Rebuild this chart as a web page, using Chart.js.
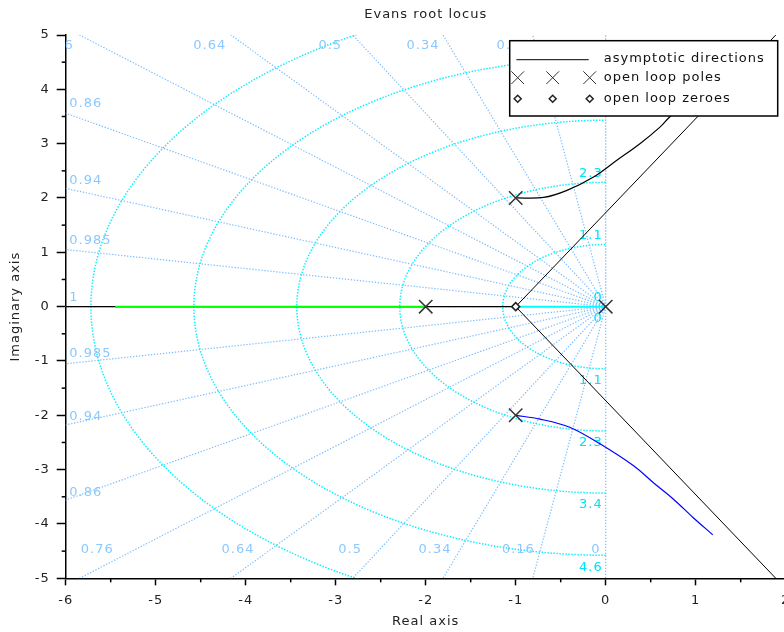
<!DOCTYPE html>
<html><head><meta charset="utf-8">
<script src="https://cdn.jsdelivr.net/npm/chart.js@4/dist/chart.umd.min.js"></script>
<style>html,body{margin:0;padding:0;background:#fff;overflow:hidden}#wrap{width:790px;height:632px}</style>
</head><body><div id="wrap"><canvas id="c" width="790" height="632"></canvas></div>
<script>
// ---- data ----
const poles = [[-2, 0], [-1, 2], [-1, -2], [0, 0]];
const zeros = [[-1, 0]];
const asymUp = [[-1, 0], [1.89, 5]];
const asymDown = [[-1, 0], [1.89, -5]];
const asymLeft = [[-1, 0], [-6, 0]];
const branchGreen = [[-2, 0], [-5.45, 0]];
const branchCyan = [[0, 0], [-0.98, 0]];
const branchUpper = [[-1, 2], [-0.69, 2.01], [-0.43, 2.14], [-0.14, 2.38], [0.12, 2.69], [0.38, 3.0], [0.6, 3.3], [0.71, 3.49], [0.97, 3.88], [1.19, 4.2]];
const branchLower = [[-1, -2], [-0.73, -2.07], [-0.4, -2.22], [-0.06, -2.53], [0.31, -2.93], [0.53, -3.24], [0.75, -3.54], [0.97, -3.88], [1.19, -4.2]];
// sgrid: damping ratios and natural frequencies
const zetaValues = [0, 0.16, 0.34, 0.49, 0.64, 0.76, 0.86, 0.94, 0.985, 1];
const wnValues = [0, 1.144, 2.288, 3.432, 4.576, 5.72];
const wnLabels = ['0', '1.1', '2.3', '3.4', '4.6', '5.7'];
const zetaLabelText = ['0.76', '0.64', '0.5', '0.34', '0.16', '0',
  '0.86', '0.94', '0.985', '1', '0.985', '0.94', '0.86',
  '0.76', '0.64', '0.5', '0.34', '0.16', '0'];
const zetaLabelX = [-5.91, -4.40, -3.06, -2.03, -1.03, -0.11,
  -5.96, -5.96, -5.96, -5.96, -5.96, -5.96, -5.96,
  -5.65, -4.085, -2.84, -1.897, -0.97, -0.108];
const zetaLabelY = [4.81, 4.81, 4.81, 4.81, 4.81, 4.81,
  3.74, 2.32, 1.215, 0.166, -0.866, -2.03, -3.43,
  -4.475, -4.475, -4.475, -4.475, -4.475, -4.475];
const zetaLabelAlign = ['right', 'center', 'center', 'center', 'center', 'center',
  'left', 'left', 'left', 'left', 'left', 'left', 'left',
  'center', 'center', 'center', 'center', 'center', 'center'];
const xMin = -6, xMax = 2, yMin = -5, yMax = 5;
const legendItems = ['asymptotic directions', 'open loop poles', 'open loop zeroes'];

const FONT = '"DejaVu Sans", sans-serif';
const pts = a => a.map(([x, y]) => ({x, y}));
const lineDs = (data, color, width, order, tension) => ({
  data: pts(data), showLine: true, borderColor: color, borderWidth: width,
  pointRadius: 0, tension: tension || 0, fill: false, order
});

const spacing = {
  id: 'spacing',
  beforeUpdate(c) { c.ctx.letterSpacing = '1px'; },
  beforeDraw(c) { c.ctx.letterSpacing = '1px'; }
};

const sgrid = {
  id: 'sgrid',
  beforeDatasetsDraw(c) {
    const {ctx, chartArea: a, scales: {x, y}} = c;
    const ox = x.getPixelForValue(0), oy = y.getPixelForValue(0);
    const sx = x.getPixelForValue(1) - ox, sy = oy - y.getPixelForValue(1);
    ctx.save();
    ctx.beginPath(); ctx.rect(a.left, a.top, a.right - a.left, a.bottom - a.top); ctx.clip();
    ctx.letterSpacing = '1px';
    // damping rays
    ctx.strokeStyle = '#78bcff'; ctx.lineWidth = 1.2; ctx.setLineDash([1.3, 1.7]);
    zetaValues.forEach(z => {
      const th = Math.acos(z);
      const R = 20;
      [1, -1].forEach(s => {
        ctx.beginPath();
        ctx.moveTo(ox, oy);
        ctx.lineTo(x.getPixelForValue(-R * Math.cos(th)), y.getPixelForValue(s * R * Math.sin(th)));
        ctx.stroke();
      });
    });
    // natural-frequency arcs
    ctx.strokeStyle = '#00f0ff'; ctx.lineWidth = 1.5; ctx.setLineDash([1.4, 1.6]);
    wnValues.forEach(w => {
      if (w <= 0) return;
      ctx.beginPath();
      ctx.ellipse(ox, oy, w * sx, w * sy, 0, Math.PI / 2, 3 * Math.PI / 2);
      ctx.stroke();
    });
    ctx.setLineDash([]);
    // labels
    ctx.font = '13px ' + FONT; ctx.textBaseline = 'middle';
    ctx.fillStyle = '#8cc8ff';
    zetaLabelText.forEach((t, i) => {
      ctx.textAlign = zetaLabelAlign[i];
      ctx.fillText(t, x.getPixelForValue(zetaLabelX[i]), y.getPixelForValue(zetaLabelY[i]));
    });
    ctx.fillStyle = '#00e2f8'; ctx.textAlign = 'right';
    wnValues.forEach((w, i) => {
      ctx.fillText(wnLabels[i], ox - 3, oy - w * sy - 9);
      ctx.fillText(wnLabels[i], ox - 3, oy + w * sy + 12);
    });
    ctx.restore();
  }
};

const axesExtra = {
  id: 'axesExtra',
  afterDraw(c) {
    const {ctx, chartArea: a, scales: {x, y}} = c;
    ctx.save();
    ctx.strokeStyle = '#000'; ctx.lineWidth = 1.5;
    for (let v = xMin + 0.5; v < xMax; v += 1) {
      const px = x.getPixelForValue(v);
      ctx.beginPath(); ctx.moveTo(px, a.bottom); ctx.lineTo(px, a.bottom + 4); ctx.stroke();
    }
    for (let v = yMin + 0.5; v < yMax; v += 1) {
      const py = y.getPixelForValue(v);
      ctx.beginPath(); ctx.moveTo(a.left, py); ctx.lineTo(a.left - 4, py); ctx.stroke();
    }
    ctx.restore();
  },
  afterDatasetsDraw(c) {
    const {ctx, chartArea: a} = c;
    const L = a.right - 276, T = a.top + 5.7, W = 268, H = 75.3;
    ctx.save();
    ctx.letterSpacing = '1px';
    ctx.fillStyle = '#fff'; ctx.fillRect(L, T, W, H);
    ctx.strokeStyle = '#000'; ctx.lineWidth = 1.5; ctx.strokeRect(L, T, W, H);
    const rows = [T + 17.5, T + 37, T + 58];
    ctx.lineWidth = 1; ctx.beginPath(); ctx.moveTo(L + 6.7, rows[0] + 1.5); ctx.lineTo(L + 79, rows[0] + 1.5); ctx.stroke();
    ctx.strokeStyle = '#333';
    [8, 43, 80].forEach(dx => {
      Chart.helpers.drawPoint(ctx, {pointStyle: 'crossRot', radius: 9, borderWidth: 1.5}, L + dx, rows[1]);
    });
    ctx.lineWidth = 1.5; ctx.fillStyle = '#fff'; ctx.strokeStyle = '#222';
    [8, 43, 80].forEach(dx => {
      Chart.helpers.drawPoint(ctx, {pointStyle: 'rectRot', radius: 3.5, borderWidth: 1.5}, L + dx, rows[2]);
    });
    ctx.fillStyle = '#111'; ctx.font = '13px ' + FONT; ctx.textBaseline = 'middle'; ctx.textAlign = 'left';
    legendItems.forEach((t, i) => ctx.fillText(t, L + 94, rows[i]));
    ctx.restore();
  }
};

new Chart(document.getElementById('c'), {
  type: 'scatter',
  data: {
    datasets: [
      {data: pts(zeros), showLine: false, pointStyle: 'rectRot', pointRadius: 4, pointBackgroundColor: '#fff', pointBorderColor: '#222', pointBorderWidth: 1.5, order: 0},
      {data: pts(poles), showLine: false, pointStyle: 'crossRot', pointRadius: 9.5, pointBorderColor: '#333', pointBackgroundColor: '#333', pointBorderWidth: 1.5, order: 1},
      lineDs(branchGreen, '#00ff00', 2, 2),
      lineDs(branchCyan, '#00ffff', 2, 3),
      lineDs(branchUpper, '#000000', 1.2, 4, 0.35),
      lineDs(branchLower, '#0000ff', 1.2, 5, 0.35),
      lineDs(asymUp, '#000000', 1, 6),
      lineDs(asymDown, '#000000', 1, 7),
      lineDs(asymLeft, '#000000', 1.2, 8)
    ]
  },
  options: {
    responsive: false, animation: false, devicePixelRatio: 1,
    layout: {autoPadding: false, padding: {top: 0, left: 0, bottom: 0, right: 4.3}},
    plugins: {
      legend: {display: false}, tooltip: {enabled: false},
      title: {display: true, text: 'Evans root locus', fullSize: false, color: '#222',
        font: {family: FONT, size: 13, weight: 'normal'}, padding: {top: 7, bottom: 12.4}}
    },
    scales: {
      x: {
        type: 'linear', min: xMin, max: xMax,
        ticks: {stepSize: 1, color: '#222', padding: 8, font: {family: FONT, size: 13}},
        grid: {drawOnChartArea: false, drawTicks: true, tickLength: 7, color: '#000', tickWidth: 1.5},
        border: {display: true, color: '#000', width: 1.5},
        title: {display: true, text: 'Real axis', color: '#222', font: {family: FONT, size: 13}, padding: {top: 0, bottom: 2.5}},
        afterFit: s => { s.height = 53.7; s.paddingLeft = 0; s.paddingRight = 0; }
      },
      y: {
        type: 'linear', min: yMin, max: yMax,
        ticks: {stepSize: 1, color: '#222', padding: 7, font: {family: FONT, size: 13}},
        grid: {drawOnChartArea: false, drawTicks: true, tickLength: 9, color: '#000', tickWidth: 1.5},
        border: {display: true, color: '#000', width: 1.5},
        title: {display: true, text: 'Imaginary axis', color: '#222', font: {family: FONT, size: 13}, padding: {top: 8, bottom: 0}},
        afterFit: s => { s.width = 65.7; s.paddingTop = 0; s.paddingBottom = 0; }
      }
    }
  },
  plugins: [spacing, sgrid, axesExtra]
});
</script></body></html>
